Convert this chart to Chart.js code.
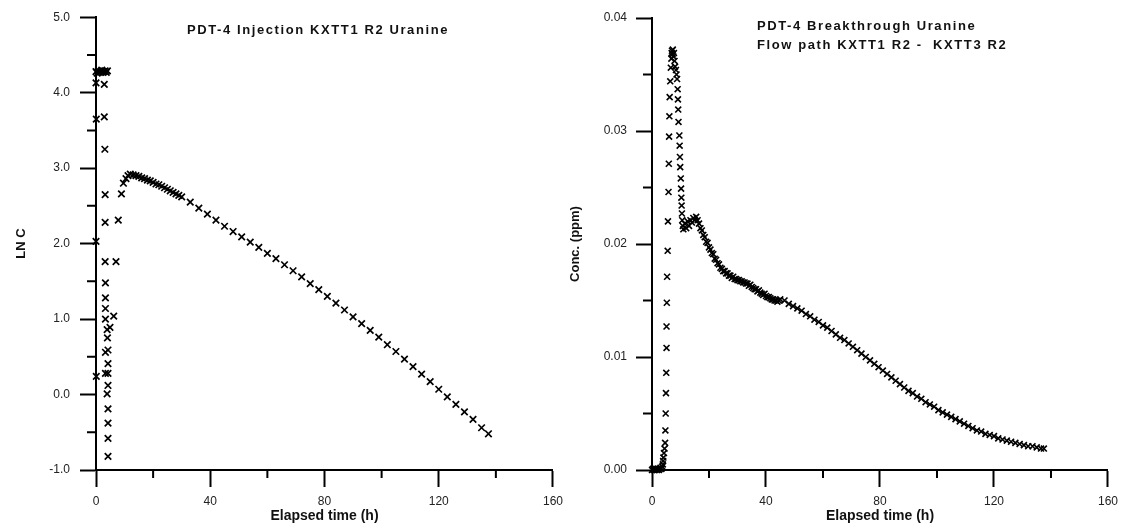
<!DOCTYPE html>
<html>
<head>
<meta charset="utf-8">
<script src="https://cdn.jsdelivr.net/npm/chart.js@4/dist/chart.umd.min.js"></script>
<style>
  body { margin: 0; background: #fff; }
  #wrap { position: relative; width: 1125px; height: 528px; }
  canvas { position: absolute; top: 0; }
</style>
</head>
<body>
<div id="wrap">
  <canvas id="inj-chart" width="570" height="528" style="left:0"></canvas>
  <canvas id="btc-chart" width="560" height="528" style="left:565px"></canvas>
</div>
<script>
////// Injection curve (LN C vs elapsed time)
const injTime = [
  0, 0.4, 0.8, 1.2, 1.6, 2.0, 2.4, 2.8, 3.2, 3.6, 4.0,
  0, 0.1, 0, 0.1,
  2.9, 2.9, 3.1, 3.2, 3.2, 3.2, 3.3, 3.3, 3.3, 3.3, 3.9, 4.0, 3.3, 4.2, 4.2, 3.3, 4.2, 4.2, 3.9, 4.2, 4.2, 4.2, 4.2,
  4.9, 6.2, 7.0, 7.8, 8.9, 9.6, 10.5, 11.2,
  12, 13, 14, 15, 16, 17, 18, 19, 20, 21, 22, 23, 24, 25, 26, 27, 28, 29, 30,
  33, 36, 39, 42, 45, 48, 51, 54, 57, 60, 63, 66, 69, 72, 75, 78, 81, 84, 87, 90,
  93, 96, 99, 102, 105, 108, 111, 114, 117, 120, 123, 126, 129, 132, 135, 137.4
];
const injLnC = [
  4.28, 4.26, 4.29, 4.27, 4.28, 4.30, 4.27, 4.28, 4.29, 4.27, 4.29,
  4.13, 3.65, 2.03, 0.24,
  4.11, 3.68, 3.25, 2.65, 2.28, 1.76, 1.48, 1.28, 1.14, 1.00, 0.86, 0.75, 0.56, 0.59, 0.41, 0.28, 0.28, 0.12, 0.01, -0.19, -0.38, -0.58, -0.82,
  0.89, 1.04, 1.76, 2.31, 2.66, 2.80, 2.86, 2.90,
  2.92, 2.91, 2.90, 2.89, 2.87, 2.86, 2.84, 2.83, 2.81, 2.79, 2.78, 2.76, 2.74, 2.72, 2.70, 2.68, 2.66, 2.64, 2.62,
  2.55, 2.47, 2.39, 2.31, 2.23, 2.16, 2.09, 2.02, 1.95, 1.87, 1.80, 1.72, 1.64, 1.56, 1.47, 1.39, 1.30, 1.21, 1.12, 1.03,
  0.94, 0.85, 0.76, 0.66, 0.57, 0.47, 0.37, 0.27, 0.17, 0.07, -0.03, -0.13, -0.23, -0.33, -0.44, -0.52
];

////// Breakthrough curve (concentration vs elapsed time)
const btcTime = [
  0, 0.3, 0.6, 0.9, 1.2, 1.5, 1.8, 2.1, 2.4, 2.7, 3.0, 3.3, 3.6, 3.8, 3.9, 4.0, 4.2, 4.4, 4.6,
  4.7, 4.8, 4.9, 5.0, 5.1, 5.1, 5.2, 5.3, 5.5, 5.6, 5.8, 5.9, 6.0, 6.1, 6.2, 6.4,
  6.6, 6.8, 6.9, 7.0, 7.2, 7.3, 7.5, 7.7, 7.9, 8.1, 8.4, 8.6,
  8.8, 9.0, 9.1, 9.2, 9.3, 9.6, 9.7, 9.8, 9.9, 10.1, 10.2, 10.3, 10.4, 10.5, 10.6, 10.8,
  11.0, 11.5, 12.0, 12.5, 13.0, 13.5, 14.0, 14.5, 15.0, 15.5, 16.0, 16.5, 17.0, 17.5, 18.0, 18.5,
  19.0, 19.5, 20.0, 20.5, 21.0, 21.5, 22.0, 22.5, 23.0, 23.5, 24.0, 24.5, 25.0, 25.5, 26.0, 26.5,
  27.0, 27.5, 28.0, 28.5, 29.0, 29.5, 30.0, 30.5, 31.0, 31.5, 32.0, 32.5, 33.0, 33.5, 34.0, 34.5,
  35.0, 35.5, 36.0, 36.5, 37.0, 37.5, 38.0, 38.5, 39.0, 39.5, 40.0, 40.5, 41.0, 41.5, 42.0, 42.5,
  43.0, 43.5, 44.0, 44.5,
  45, 46.5, 48, 49.5, 51, 52.5, 54, 55.5, 57, 58.5, 60, 61.5, 63, 64.5, 66, 67.5, 69, 70.5, 72, 73.5,
  75, 76.5, 78, 79.5, 81, 82.5, 84, 85.5, 87, 88.5, 90, 91.5, 93, 94.5, 96, 97.5, 99, 100.5, 102, 103.5,
  105, 106.5, 108, 109.5, 111, 112.5, 114, 115.5, 117, 118.5, 120, 121.5, 123, 124.5, 126, 127.5, 129, 130.5,
  132, 133.5, 135, 136.5, 137.5
];
const btcConc = [
  0, 0.0001, 0, 0.0001, 0, 0.0001, 0, 0.0001, 0, 0.0001, 0.0002, 0.0001, 0.0003, 0.0005, 0.0008, 0.0011, 0.0015, 0.0019, 0.0024,
  0.0035, 0.0050, 0.0068, 0.0086, 0.0108, 0.0127, 0.0148, 0.0171, 0.0194, 0.0220, 0.0246, 0.0271, 0.0295, 0.0313, 0.0330, 0.0344,
  0.0356, 0.0364, 0.0369, 0.0371, 0.0368, 0.0372, 0.0366, 0.0369, 0.0362, 0.0357, 0.0354, 0.0350,
  0.0346, 0.0337, 0.0328, 0.0319, 0.0308, 0.0296, 0.0287, 0.0277, 0.0268, 0.0258, 0.0249, 0.0241, 0.0234, 0.0227, 0.0221, 0.0216,
  0.0213, 0.0218, 0.0214, 0.0220, 0.0216, 0.0221, 0.0219, 0.0223, 0.0221, 0.0224, 0.0221, 0.0218, 0.0214, 0.0212, 0.0208, 0.0206,
  0.0202, 0.0201, 0.0197, 0.0195, 0.0192, 0.0191, 0.0187, 0.0186, 0.0183, 0.0182, 0.0179, 0.0178, 0.0176, 0.0176, 0.0174, 0.0174,
  0.0172, 0.0172, 0.0170, 0.0171, 0.0169, 0.0169, 0.0168, 0.0168, 0.0167, 0.0167, 0.0166, 0.0166, 0.0165, 0.0165, 0.0163, 0.0164,
  0.0162, 0.0161, 0.0160, 0.0160, 0.0158, 0.0159, 0.0157, 0.0156, 0.0155, 0.0156, 0.0154, 0.0153, 0.0153, 0.0152, 0.0151, 0.0151,
  0.0150, 0.0150, 0.0149, 0.0150,
  0.0151, 0.0150, 0.0147, 0.0145, 0.0143, 0.0141, 0.0138, 0.0136, 0.0133, 0.0131, 0.0128, 0.0126, 0.0123, 0.0120, 0.0117, 0.0115, 0.0112, 0.0109, 0.0106, 0.0103,
  0.0100, 0.0097, 0.0094, 0.0091, 0.0088, 0.0085, 0.0082, 0.0079, 0.0076, 0.0073, 0.0070, 0.0068, 0.0065, 0.0063, 0.0060, 0.0058, 0.0056, 0.0053, 0.0051, 0.0049,
  0.0047, 0.0045, 0.0043, 0.0041, 0.0039, 0.0037, 0.0035, 0.0034, 0.0032, 0.0031, 0.0030, 0.0028, 0.0027, 0.0026, 0.0025, 0.0024, 0.0023, 0.0022,
  0.0021, 0.0021, 0.0020, 0.0019, 0.0019
];

const fontFamily = '"Liberation Sans", Arial, Helvetica, sans-serif';
const tickFont = { family: fontFamily, size: 12 };
const axisTitleFont = { family: fontFamily, size: 14, weight: 'bold' };

// titles inside the plot and the unlabelled minor ticks
const extras = {
  id: 'extras',
  afterDraw(chart, args, opts) {
    const ctx = chart.ctx;
    const xs = chart.scales.x;
    const ys = chart.scales.y;
    ctx.save();
    ctx.strokeStyle = '#000';
    ctx.lineWidth = 2;
    ctx.beginPath();
    opts.minorX.forEach(v => {
      const px = xs.getPixelForValue(v);
      ctx.moveTo(px, xs.top);
      ctx.lineTo(px, xs.top + 8);
    });
    opts.minorY.forEach(v => {
      const py = ys.getPixelForValue(v);
      ctx.moveTo(ys.right, py);
      ctx.lineTo(ys.right - 9, py);
    });
    ctx.stroke();
    ctx.fillStyle = '#111';
    ctx.font = 'bold 13px ' + fontFamily;
    ctx.letterSpacing = '1.6px';
    ctx.textAlign = opts.titleAlign;
    ctx.textBaseline = 'middle';
    opts.titleLines.forEach((line, i) => ctx.fillText(line, opts.titleX, opts.titleY + i * 19));
    ctx.restore();
  }
};

function points(xs, ys) {
  return xs.map((x, i) => ({ x: x, y: ys[i] }));
}

function xAxis() {
  return {
    type: 'linear', min: 0, max: 160,
    ticks: { stepSize: 40, padding: 7, color: '#222', font: tickFont, maxRotation: 0 },
    grid: { drawOnChartArea: false, tickLength: 17, tickColor: '#000', tickWidth: 2 },
    border: { color: '#000', width: 2 },
    title: { display: true, text: 'Elapsed time (h)', color: '#111', font: axisTitleFont, padding: { top: 0, bottom: 3 } },
    afterFit(scale) { scale.height = 58; }
  };
}

let inj_chart = new Chart(document.getElementById('inj-chart').getContext('2d'), {
  type: 'scatter',
  data: {
    datasets: [{
      data: points(injTime, injLnC),
      pointStyle: 'crossRot', pointRadius: 4.6, borderWidth: 1.7,
      borderColor: '#000', backgroundColor: '#000', clip: false
    }]
  },
  options: {
    responsive: false, animation: false, devicePixelRatio: 1,
    layout: { padding: { left: 0, right: 17, top: 15, bottom: 0 } },
    plugins: {
      legend: { display: false }, tooltip: { enabled: false },
      extras: {
        minorX: [20, 60, 100, 140], minorY: [4.5, 3.5, 2.5, 1.5, 0.5, -0.5],
        titleLines: ['PDT-4 Injection KXTT1 R2 Uranine'], titleAlign: 'center', titleX: 318, titleY: 30
      }
    },
    scales: {
      x: xAxis(),
      y: {
        type: 'linear', min: -1, max: 5,
        ticks: { stepSize: 1, padding: 10, color: '#222', font: tickFont, callback: v => v.toFixed(1) },
        grid: { drawOnChartArea: false, tickLength: 16, tickColor: '#000', tickWidth: 2 },
        border: { color: '#000', width: 2 },
        title: { display: true, text: 'LN C', color: '#111', font: { family: fontFamily, size: 13, weight: 'bold' }, padding: { top: 14, bottom: 0 } },
        afterFit(scale) { scale.width = 96; }
      }
    }
  },
  plugins: [extras]
});

let btc_chart = new Chart(document.getElementById('btc-chart').getContext('2d'), {
  type: 'scatter',
  data: {
    datasets: [{
      data: points(btcTime, btcConc),
      pointStyle: 'crossRot', pointRadius: 4.2, borderWidth: 1.6,
      borderColor: '#000', backgroundColor: '#000', clip: false
    }]
  },
  options: {
    responsive: false, animation: false, devicePixelRatio: 1,
    layout: { padding: { left: 0, right: 17, top: 18, bottom: 0 } },
    plugins: {
      legend: { display: false }, tooltip: { enabled: false },
      extras: {
        minorX: [20, 60, 100, 140], minorY: [0.035, 0.025, 0.015, 0.005],
        titleLines: ['PDT-4 Breakthrough Uranine', 'Flow path KXTT1 R2 -  KXTT3 R2'], titleAlign: 'left', titleX: 192, titleY: 26
      }
    },
    scales: {
      x: xAxis(),
      y: {
        type: 'linear', min: 0, max: 0.04,
        ticks: { stepSize: 0.01, padding: 9, color: '#222', font: tickFont, callback: v => v.toFixed(2) },
        grid: { drawOnChartArea: false, tickLength: 16, tickColor: '#000', tickWidth: 2 },
        border: { color: '#000', width: 2 },
        title: { display: true, text: 'Conc. (ppm)', color: '#111', font: { family: fontFamily, size: 13, weight: 'bold' }, padding: { top: 3, bottom: 0 } },
        afterFit(scale) { scale.width = 87; }
      }
    }
  },
  plugins: [extras]
});
</script>
</body>
</html>
